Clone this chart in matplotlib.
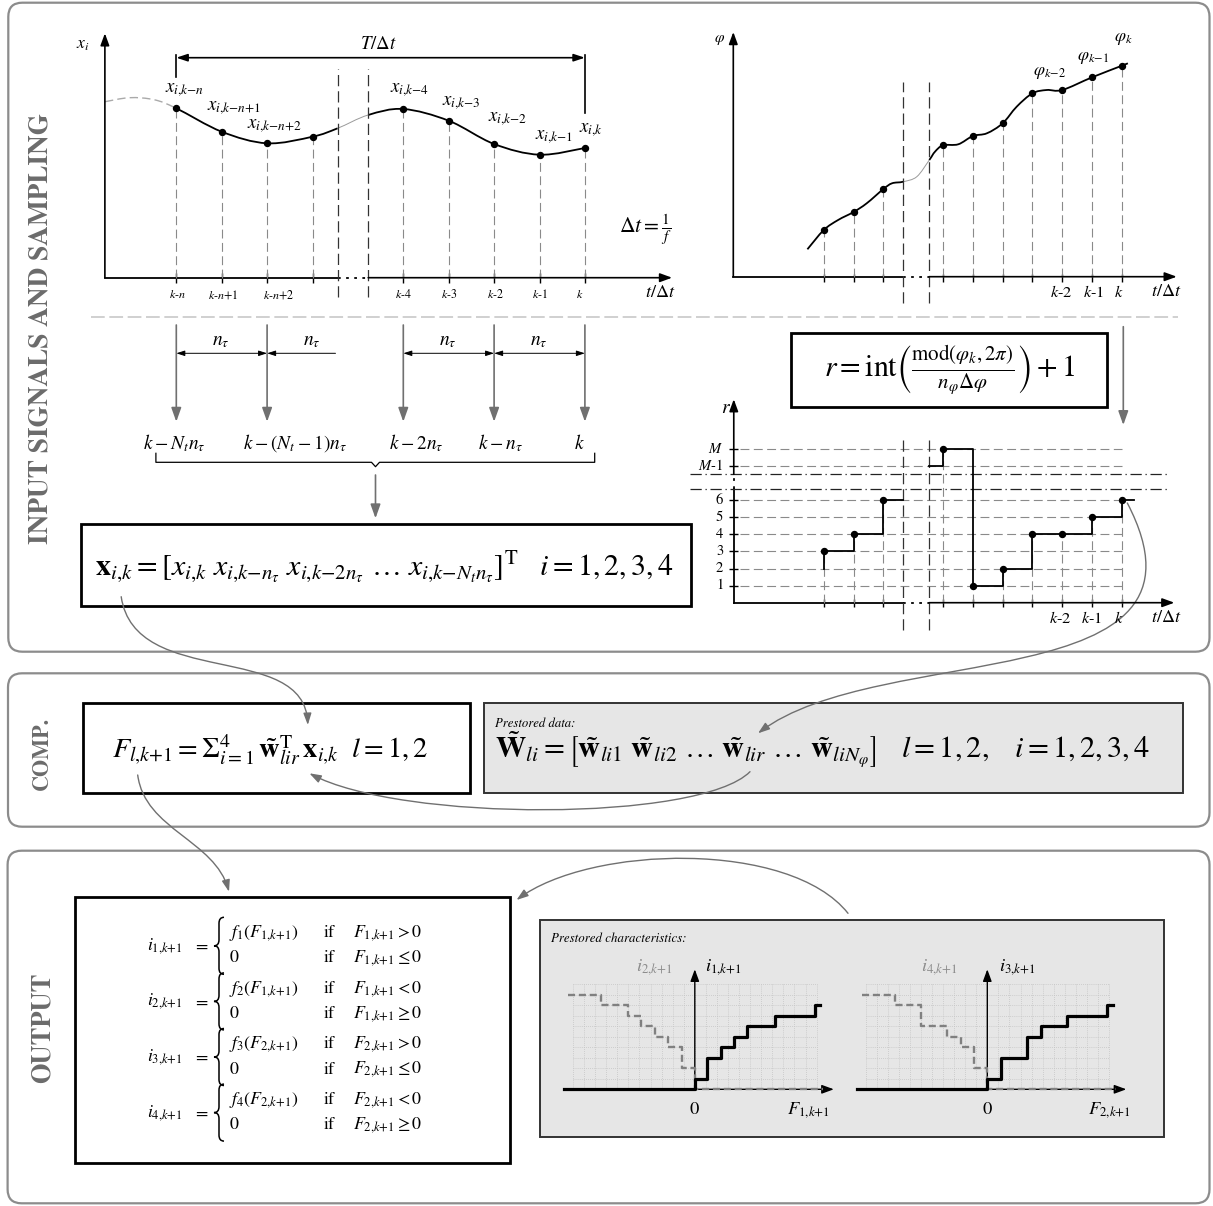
import numpy as np
import matplotlib
matplotlib.use("Agg")
import matplotlib.pyplot as plt
from matplotlib.path import Path
from matplotlib.patches import PathPatch, Rectangle, FancyBboxPatch, FancyArrowPatch

plt.rcParams["mathtext.fontset"] = "stix"
plt.rcParams["font.family"] = "STIXGeneral"

W, H = 1213, 1206
GRAY = "#707070"
DASH_GRAY = "#8a8a8a"

# --- input signal x_i, samples counted from k-n ---
sig_n = [0, 1, 2, 3, 5, 6, 7, 8, 9]
sig_v = [1.694, 1.46, 1.344, 1.41, 1.687, 1.57, 1.337, 1.23, 1.297]
sig_names = [r"$x_{i{,}k{-}n}$", r"$x_{i{,}k{-}n{+}1}$", r"$x_{i{,}k{-}n{+}2}$", "",
             r"$x_{i{,}k{-}4}$", r"$x_{i{,}k{-}3}$", r"$x_{i{,}k{-}2}$", r"$x_{i{,}k{-}1}$",
             r"$x_{i{,}k}$"]
sig_ticks = ["$k$-$n$", "$k$-$n$+1", "$k$-$n$+2", "", "$k$-4", "$k$-3", "$k$-2", "$k$-1", "$k$"]
# course of the continuous signal
sig_tn = [-1.57, -1.03, -0.49, 0, 1, 2, 3, 3.553, 4.227, 5, 6, 7, 8, 9]
sig_tv = [1.76, 1.80, 1.78, 1.694, 1.46, 1.344, 1.41, 1.494, 1.627, 1.687, 1.57, 1.337, 1.23, 1.297]

# --- rotor angle phi ---
phi_n = [0, 1, 2, 4, 5, 6, 7, 8, 9, 10]
phi_v = [0.467, 0.647, 0.877, 1.314, 1.407, 1.534, 1.834, 1.867, 1.994, 2.11]
phi_tn = [-0.55, 0, 0.48, 1, 1.44, 2, 2.29, 2.667, 3.12, 3.539, 3.73, 4, 4.51, 5, 5.47, 6,
          6.47, 7, 7.48, 8, 9, 10, 10.2]
phi_tv = [0.274, 0.467, 0.567, 0.647, 0.734, 0.877, 0.934, 0.95, 1.0, 1.167, 1.25, 1.314,
          1.324, 1.407, 1.434, 1.534, 1.7, 1.834, 1.867, 1.867, 1.994, 2.11, 2.134]
phi_names = [r"$\varphi_{k{-}2}$", r"$\varphi_{k{-}1}$", r"$\varphi_k$"]

# --- sector number r (M drawn at level 9, M-1 at 8) ---
r_n = [0, 1, 2, 4, 5, 6, 7, 8, 9, 10]
r_v = [3, 4, 6, 9, 1, 2, 4, 4, 5, 6]
r_levels = [1, 2, 3, 4, 5, 6, 8, 9]
r_level_names = ["1", "2", "3", "4", "5", "6", "$M$-1", "$M$"]
end_ticks = ["$k$-2", "$k$-1", "$k$"]

# --- prestored characteristics i(F) ---
c1_F = [0, 1.06, 2.35, 3.52, 4.72, 7.23, 10.84, 11.3]
c1_i = [1, 3, 4, 5, 6, 7, 8]
c2_F = [-11.45, -8.43, -6.02, -4.82, -3.61, -2.41, -1.2, 0]
c2_i = [9, 8, 7, 6, 5, 4, 2]
c3_F = [0, 1.21, 3.56, 4.82, 7.23, 10.84, 11.38]
c3_i = [1, 3, 5, 6, 7, 8]
c4_F = [-11.35, -8.34, -5.99, -3.61, -2.4, -1.17, 0]
c4_i = [9, 8, 6, 5, 4, 2]

# --- output rules ---
out_F = [1, 1, 2, 2]
out_cond = [(">", r"\leq"), ("<", r"\geq"), (">", r"\leq"), ("<", r"\geq")]

fig = plt.figure(figsize=(W / 100, H / 100), dpi=100)
ax = fig.add_axes([0, 0, 1, 1])
ax.set_xlim(0, W)
ax.set_ylim(H, 0)
ax.axis("off")

fits = []


def txt(a, x, y, s, target=None, group=None, vertical=False, **kw):
    kw.setdefault("ha", "center")
    kw.setdefault("va", "center")
    kw.setdefault("fontsize", 12)
    t = a.text(x, y, s, **kw)
    if target:
        fits.append((t, target, group, vertical))
    return t


def apply_fits():
    # scale fonts so that the texts get the widths
    for _ in range(2):
        fig.canvas.draw()
        rend = fig.canvas.get_renderer()
        scales = {}
        for i, (t, target, g, vert) in enumerate(fits):
            bb = t.get_window_extent(rend)
            size = bb.height if vert else bb.width
            scales.setdefault(g if g else i, []).append(target / size)
        for i, (t, target, g, vert) in enumerate(fits):
            t.set_fontsize(t.get_fontsize() * np.median(scales[g if g else i]))


def sub_axes(x0, sx, y0, sy, xlim, ylim):
    l, r = x0 + sx * xlim[0], x0 + sx * xlim[1]
    t, b = y0 - sy * ylim[1], y0 - sy * ylim[0]
    a = fig.add_axes([l / W, 1 - b / H, (r - l) / W, (b - t) / H])
    a.set_xlim(*xlim)
    a.set_ylim(*ylim)
    a.axis("off")
    a.patch.set_visible(False)
    return a


def arrow(a, p0, p1, color="k", lw=1.2, style="-|>,head_length=0.6,head_width=0.22", ms=12, z=3):
    a.annotate("", xy=p1, xytext=p0, annotation_clip=False,
               arrowprops=dict(arrowstyle=style, color=color, lw=lw, shrinkA=0, shrinkB=0,
                               mutation_scale=ms, zorder=z))


def smooth(xs, ys, i0, i1):
    p = np.column_stack([xs, ys]).astype(float)
    verts = [p[i0]]
    for i in range(i0, i1):
        a0, a1 = p[max(i - 1, 0)], p[i]
        a2, a3 = p[i + 1], p[min(i + 2, len(p) - 1)]
        verts += [a1 + (a2 - a0) / 6, a2 - (a3 - a1) / 6, a2]
    return Path(verts, [Path.MOVETO] + [Path.CURVE4] * (3 * (i1 - i0)))


def curve(a, xs, ys, i0, i1, **kw):
    a.add_patch(PathPatch(smooth(xs, ys, i0, i1), fill=False, clip_on=False, **kw))


def curve_arrow(p0, c1, c2, p3):
    path = Path([p0, c1, c2, p3], [Path.MOVETO, Path.CURVE4, Path.CURVE4, Path.CURVE4])
    ax.add_patch(FancyArrowPatch(path=path, arrowstyle="-|>,head_length=7,head_width=2.4",
                                 color=GRAY, lw=1.0, zorder=6))


def box(x0, y0, x1, y1, fc="white", ec="black", lw=2.0):
    ax.add_patch(Rectangle((x0, y0), x1 - x0, y1 - y0, fc=fc, ec=ec, lw=lw, zorder=1))


def brace(x, ytop, ybot, w=5, r=6):
    ym = (ytop + ybot) / 2
    verts = [(x + w, ytop), (x, ytop), (x, ytop + r), (x, ym - r), (x, ym), (x - w, ym),
             (x, ym), (x, ym + r), (x, ybot - r), (x, ybot), (x + w, ybot)]
    codes = [Path.MOVETO, Path.CURVE3, Path.CURVE3, Path.LINETO, Path.CURVE3, Path.CURVE3,
             Path.CURVE3, Path.CURVE3, Path.LINETO, Path.CURVE3, Path.CURVE3]
    ax.add_patch(PathPatch(Path(verts, codes), fill=False, ec="k", lw=1.1, zorder=3))


# ---------------- panels ----------------
for (x0, y0, x1, y1) in [(8.3, 2.7, 1209.5, 651.7), (8, 673.3, 1209.5, 826.7),
                         (7.6, 850.7, 1209.5, 1203.3)]:
    ax.add_patch(FancyBboxPatch((x0, y0), x1 - x0, y1 - y0,
                                boxstyle="round,pad=0,rounding_size=14",
                                fc="white", ec="#8c8c8c", lw=1.6, zorder=0))

vkw = dict(rotation=90, fontweight="bold", color="#6b6b6b", vertical=True)
txt(ax, 41, 328, "INPUT SIGNALS AND SAMPLING", target=430, **vkw)
txt(ax, 42.5, 753, "COMP.", target=73, **vkw)
txt(ax, 43, 1028, "OUTPUT", target=110, **vkw)

ax.plot([90.6, 1178], [317.3, 317.3], color="#c4c4c4", lw=1.1, dashes=(9, 3), zorder=1)

# ---------------- signal plot ----------------
SX0, SDX = 176.3, 45.4
sa = sub_axes(SX0, SDX, 277.7, 100, (-2.3, 11.5), (-0.35, 2.6))
y0n = -1.573
arrow(sa, (y0n, 0), (y0n, 2.444))
sa.plot([y0n, 3.553], [0, 0], "k", lw=1.3, clip_on=False)
sa.plot([3.553, 4.227], [0, 0], "k", lw=1.3, ls=(0, (1.5, 3)), clip_on=False)
arrow(sa, (4.227, 0), (10.92, 0))
sa.vlines(sig_n, -0.05, 0.05, colors="k", lw=1, clip_on=False)
sa.vlines(sig_n, 0, sig_v, colors=DASH_GRAY, lw=0.8, linestyles=(0, (8, 4)), clip_on=False)
sa.vlines([3.553, 4.227], -0.19, 2.084, colors="#333", lw=0.9, linestyles=(0, (9, 4)),
          clip_on=False)
curve(sa, sig_tn, sig_tv, 0, 3, ec="#aaaaaa", lw=1.0, ls=(0, (6, 3)))
curve(sa, sig_tn, sig_tv, 3, 7, ec="k", lw=1.3)
curve(sa, sig_tn, sig_tv, 7, 8, ec="#9a9a9a", lw=0.7)
curve(sa, sig_tn, sig_tv, 8, 13, ec="k", lw=1.3)
sa.plot(sig_n, sig_v, "ko", ms=4.3, clip_on=False, zorder=4)

name_pos = [(0.181, 1.877), (1.26, 1.694), (2.159, 1.517), None, (5.126, 1.877),
            (6.267, 1.744), (7.306, 1.584), (8.317, 1.404), (9.126, 1.477)]
name_w = [38, 54, 55, 0, 37.5, 38.8, 39.2, 39.2, 21.2]
for s, pos, w in zip(sig_names, name_pos, name_w):
    if s:
        txt(sa, pos[0], pos[1], s, target=w, group="pt")
tick_x = [0.02, 1.03, 2.26, 0, 5.0, 6.02, 7.02, 8.01, 8.88]
tick_w = [18.4, 30.6, 31.8, 0, 15.5, 16.3, 17.6, 15.1, 6.1]
for s, x, w in zip(sig_ticks, tick_x, tick_w):
    if s:
        txt(sa, x, -0.173, s, target=w, group="sigtick")
txt(sa, -2.068, 2.327, r"$x_i$", target=13.5)
txt(sa, 10.654, -0.153, r"$t/\Delta t$", target=30.6, group="tdt")
txt(sa, 10.339, 0.477, r"$\Delta t = \frac{1}{f}$", target=53)
arrow(sa, (0, 2.2), (9, 2.2), style="<|-|>,head_length=0.6,head_width=0.2", ms=11)
sa.plot([0, 0], [2.227, 2.01], "k", lw=1.2, clip_on=False)
sa.plot([9, 9], [2.227, 1.647], "k", lw=1.2, clip_on=False)
txt(sa, 4.443, 2.337, r"$T/\Delta t$", target=36.7)

# ---------------- phase plot ----------------
PX0, PDX = 823.8, 29.81
pa = sub_axes(PX0, PDX, 276.7, 100, (-3.5, 12.2), (-0.35, 2.5))
ya = -3.036
arrow(pa, (ya, 0), (ya, 2.447))
pa.plot([ya, 2.667], [0, 0], "k", lw=1.3, clip_on=False)
pa.plot([2.667, 3.539], [0, 0], "k", lw=1.3, ls=(0, (1.5, 3)), clip_on=False)
arrow(pa, (3.539, 0), (11.84, 0))
pa.vlines(phi_n, -0.05, 0.027, colors="k", lw=1, clip_on=False)
pa.vlines(phi_n, 0, phi_v, colors=DASH_GRAY, lw=0.8, linestyles=(0, (8, 4)), clip_on=False)
pa.vlines([2.667, 3.539], -0.267, 1.95, colors="#333", lw=0.9, linestyles=(0, (9, 4)),
          clip_on=False)
curve(pa, phi_tn, phi_tv, 0, 7, ec="k", lw=1.3)
curve(pa, phi_tn, phi_tv, 7, 9, ec="#9a9a9a", lw=0.7)
curve(pa, phi_tn, phi_tv, 9, len(phi_tn) - 1, ec="k", lw=1.3)
pa.plot(phi_n, phi_v, "ko", ms=4.3, clip_on=False, zorder=4)
for s, (x, y), w in zip(phi_names, [(7.555, 2.04), (9.03, 2.184), (10.06, 2.374)],
                        [33, 32.7, 17.3]):
    txt(pa, x, y, s, target=w, group="phil")
for s, x, w in zip(end_ticks, [7.957, 9.06, 9.9], [24, 22.3, 8.3]):
    txt(pa, x, -0.15, s, target=w, group="endtick")
txt(pa, -3.499, 2.367, r"$\varphi$", target=11)
txt(pa, 11.5, -0.15, r"$t/\Delta t$", target=30, group="tdt")

# ---------------- sector plot ----------------
ra = sub_axes(PX0, PDX, 602.7, 17.1, (-3.5, 12.2), (-2, 12.2))
yr = -3.02
ra.plot([yr, yr], [0, 6.63], "k", lw=1.3, clip_on=False)
ra.plot([yr, yr], [6.63, 7.51], "k", lw=1.3, ls=(0, (1.5, 3)), clip_on=False)
arrow(ra, (yr, 7.51), (yr, 11.9))
ra.plot([yr, 2.667], [0, 0], "k", lw=1.3, clip_on=False)
ra.plot([2.667, 3.539], [0, 0], "k", lw=1.3, ls=(0, (1.5, 3)), clip_on=False)
arrow(ra, (3.539, 0), (11.76, 0))
ra.hlines(r_levels, yr - 0.15, yr + 0.15, colors="k", lw=1, clip_on=False)
ra.hlines(r_levels, -2.82, 10, colors=DASH_GRAY, lw=0.8, linestyles=(0, (8, 4)), clip_on=False)
ra.hlines([7.51, 6.63], -4.5, 11.6, colors="#222", lw=0.9, linestyles=(0, (9, 3, 1, 3)),
          clip_on=False)
ra.vlines(r_n, -0.25, 0.2, colors="k", lw=1, clip_on=False)
ra.vlines(r_n, 0, r_v, colors=DASH_GRAY, lw=0.8, linestyles=(0, (8, 4)), clip_on=False)
ra.vlines([2.667, 3.539], [-1.6, -1.6], [9.8, 9.7], colors="#333", lw=0.9,
          linestyles=(0, (9, 4)), clip_on=False)
ra.step([0, 0] + r_n[1:3] + [2.667], [2] + r_v[:3] + [r_v[2]], where="post", color="k",
        lw=1.3, clip_on=False)
ra.step([3.539] + r_n[3:] + [10.41], [8] + r_v[3:] + [r_v[-1]], where="post", color="k",
        lw=1.3, clip_on=False)
ra.plot(r_n, r_v, "ko", ms=4.3, clip_on=False, zorder=4)
for s, lv in zip(r_level_names, r_levels):
    w = {"$M$": 16, "$M$-1": 29.3}.get(s, 7.3)
    txt(ra, -3.371, lv, s, target=w, group="rlev", ha="right")
for s, x, w in zip(end_ticks, [7.947, 9.0, 9.9], [21.8, 22, 6]):
    txt(ra, x, -0.912, s, target=w, group="endtick")
txt(ra, -3.28, 11.37, r"$r$", fontsize=14)
txt(ra, 11.48, -0.91, r"$t/\Delta t$", target=30.6, group="tdt")

# ---------------- sampling of the signal ----------------
sel = [0, 2, 5, 7, 9]
sel_x = [SX0 + SDX * n for n in sel]
for x in sel_x:
    arrow(ax, (x, 325), (x, 421.7), color=GRAY, lw=1.2,
          style="-|>,head_length=0.7,head_width=0.25", ms=12)
dim = "<|-|>,head_length=0.5,head_width=0.16"
arrow(ax, (sel_x[0], 353.3), (sel_x[1], 353.3), lw=0.7, style=dim, ms=10)
arrow(ax, (335.5, 353.3), (sel_x[1], 353.3), lw=0.7, style="-|>,head_length=0.5,head_width=0.16",
      ms=10)
arrow(ax, (sel_x[2], 353.3), (sel_x[3], 353.3), lw=0.7, style=dim, ms=10)
arrow(ax, (sel_x[3], 353.3), (sel_x[4], 353.3), lw=0.7, style=dim, ms=10)
for x in [221, 312, 447.8, 538.4]:
    txt(ax, x, 341.7, r"$n_\tau$", target=17.6, group="nt")
row_names = [r"$k-N_t n_\tau$", r"$k-(N_t-1)n_\tau$", r"$k-2n_\tau$", r"$k-n_\tau$", r"$k$"]
for s, x, w in zip(row_names, [174.3, 294.7, 416.7, 500.8, 579.2], [62.4, 107.3, 53.9, 45.7, 9.4]):
    txt(ax, x, 443.3, s, target=w, group="krow")
ax.plot([155.9, 155.9, 371.5, 375.5, 379.5, 594.7, 594.7],
        [453.3, 462.3, 462.3, 466.7, 462.3, 462.3, 453.3], "k", lw=0.9)
arrow(ax, (375.5, 475), (375.5, 518.3), color=GRAY, lw=1.2,
      style="-|>,head_length=0.7,head_width=0.25", ms=12)

box(81.2, 524, 690.6, 606)
txt(ax, 94.7, 566.7, r"$\mathbf{x}_{i{,}k} = \left[x_{i{,}k}\ x_{i{,}k{-}n_\tau}\ x_{i{,}k{-}2n_\tau}"
    r"\ \ldots\ x_{i{,}k{-}N_t n_\tau}\right]^{\mathrm{T}} \quad i = 1,2,3,4$",
    target=577.6, ha="left", zorder=3)

box(791, 333, 1107, 407.3)
txt(ax, 949.4, 370, r"$r = \mathrm{int}\left(\frac{\mathrm{mod}(\varphi_k,2\pi)}"
    r"{n_\varphi\Delta\varphi}\right) + 1$", target=249.8, zorder=3)
arrow(ax, (1123.3, 326.7), (1123.3, 425), color=GRAY, lw=1.2,
      style="-|>,head_length=0.7,head_width=0.25", ms=12)

# ---------------- computation ----------------
box(82.8, 703.3, 470.2, 793.3)
txt(ax, 112.1, 749.3, r"$F_{l{,}k{+}1} = \Sigma_{i{=}1}^{4}\, \tilde{\mathbf{w}}_{lir}^{\mathrm{T}}"
    r"\,\mathbf{x}_{i{,}k}\ \ l = 1,2$", target=317, ha="left", zorder=3)
box(484.1, 703.3, 1183.3, 792.7, fc="#e6e6e6", ec="#333333", lw=1.4)
txt(ax, 495, 723.3, "Prestored data:", target=81, ha="left", style="italic", zorder=3)
txt(ax, 495, 750, r"$\tilde{\mathbf{W}}_{li} = \left[\tilde{\mathbf{w}}_{li1}\ \tilde{\mathbf{w}}_{li2}"
    r"\ \ldots\ \tilde{\mathbf{w}}_{lir}\ \ldots\ \tilde{\mathbf{w}}_{liN_\varphi}\right]"
    r"\quad l = 1,2, \quad i = 1,2,3,4$", target=653.5, ha="left", zorder=3)

# ---------------- output ----------------
box(75, 897.3, 509.6, 1163.3)
for k in range(4):
    c = 945.8 + 55.6 * k
    fi = out_F[k]
    txt(ax, 164.4, c, r"$i_{%d{,}k{+}1}$" % (k + 1), target=39.6, group="out", zorder=3)
    txt(ax, 201.4, c, r"$=$", target=8.6, group="out", zorder=3)
    brace(219, c - 28.5, c + 28.5)
    txt(ax, 229, c - 12.5, r"$f_%d(F_{%d{,}k{+}1})$" % (k + 1, fi), target=73.3, group="out",
        ha="left", zorder=3)
    txt(ax, 229, c + 12.5, r"$0$", target=7.9, group="out", ha="left", zorder=3)
    for dy, op in zip([-12.5, 12.5], out_cond[k]):
        txt(ax, 323.7, c + dy, "if", target=10.3, group="out", ha="left", zorder=3)
        txt(ax, 353, c + dy, r"$F_{%d{,}k{+}1} %s 0$" % (fi, op), target=76.8, group="out",
            ha="left", zorder=3)

box(539.6, 920, 1163.7, 1136.7, fc="#e6e6e6", ec="#333333", lw=1.4)
txt(ax, 550.9, 938.3, "Prestored characteristics:", target=136.8, ha="left", style="italic",
    zorder=3)

for x0, (bF, bi), (gF, gi), names in [
        (694.8, (c1_F, c1_i), (c2_F, c2_i),
         (r"$i_{2{,}k{+}1}$", r"$i_{1{,}k{+}1}$", r"$F_{1{,}k{+}1}$")),
        (987.3, (c3_F, c3_i), (c4_F, c4_i),
         (r"$i_{4{,}k{+}1}$", r"$i_{3{,}k{+}1}$", r"$F_{2{,}k{+}1}$"))]:
    ca = sub_axes(x0, 11.07, 1089.3, 10.5, (-12.5, 13.5), (-3, 12.5))
    ca.vlines(range(-11, 12), 0, 10, colors="#c4c4c4", lw=0.6, linestyles=(0, (1, 1.5)),
              clip_on=False, zorder=1)
    ca.hlines(range(1, 11), -11, 11, colors="#c4c4c4", lw=0.6, linestyles=(0, (1, 1.5)),
              clip_on=False, zorder=1)
    arrow(ca, (-11.79, 0), (12.56, 0), lw=1.0, z=2)
    arrow(ca, (0, 0), (0, 11.43), lw=1.0, z=2)
    ca.step(gF + [11.6], gi + [0, 0], where="post", color="#808080", lw=1.7,
            ls=(0, (3, 1.6)), clip_on=False, zorder=3)
    ca.step([-11.79] + bF, [0] + bi + [bi[-1]], where="post", color="k", lw=2.3,
            clip_on=False, zorder=4)
    txt(ca, -3.67 if x0 < 900 else -4.37, 11.62, names[0], target=39.2, group="chl",
        color="#8c8c8c")
    txt(ca, 2.6 if x0 < 900 else 2.71, 11.62, names[1], target=37.9, group="chl")
    txt(ca, 0, -1.97, r"$0$", target=7.4, group="chl")
    txt(ca, 10.3 if x0 < 900 else 11.01, -1.97, names[2], target=41.4, group="chl")

# ---------------- connecting arrows ----------------
curve_arrow((121.2, 596.7), (135, 690), (305, 640), (307.8, 725))
curve_arrow((1127.3, 503), (1230, 700), (880, 640), (758, 733.3))
curve_arrow((750, 771.7), (700, 822), (400, 822), (309.4, 773.3))
curve_arrow((137.7, 775), (145, 830), (215, 840), (229, 891.7))
curve_arrow((848, 913.3), (790, 840), (590, 845), (516.5, 900))

apply_fits()
fig.savefig("out.png", dpi=100)
